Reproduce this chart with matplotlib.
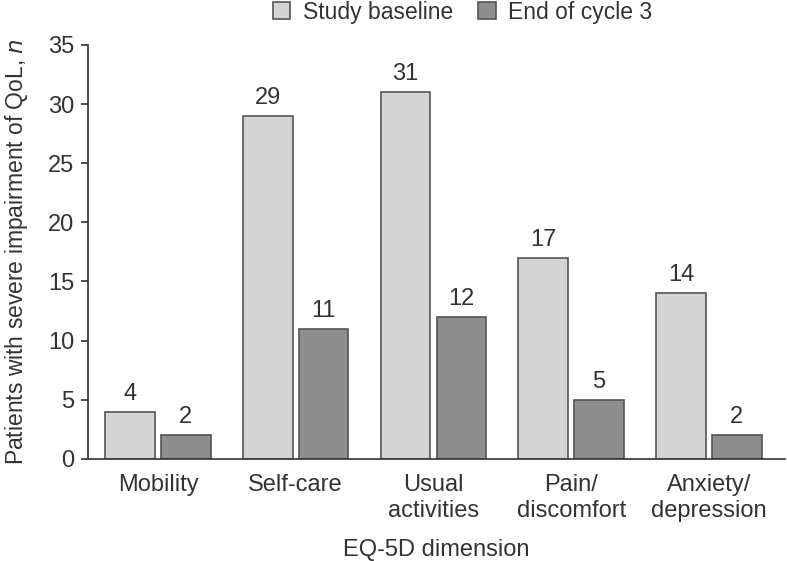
import numpy as np
import matplotlib.pyplot as plt

plt.rcParams['font.family'] = ['Liberation Sans', 'DejaVu Sans']

dimensions = ["Mobility", "Self-care", "Usual\nactivities", "Pain/\ndiscomfort", "Anxiety/\ndepression"]
baseline = [4, 29, 31, 17, 14]
cycle3 = [2, 11, 12, 5, 2]
yticks = [0, 5, 10, 15, 20, 25, 30, 35]

text_col = "#333333"
light = "#d4d4d4"
dark = "#8e8e8e"
edge = "#555555"
fs = 17

fig = plt.figure(figsize=(7.87, 5.61), dpi=100)
ax = fig.add_axes([0.112, 0.182, 0.885, 0.738])

x = np.arange(len(dimensions))
w = 0.36
off = 0.203
b1 = ax.bar(x - off, baseline, w, color=light, edgecolor=edge, linewidth=1.2, label="Study baseline")
b2 = ax.bar(x + off, cycle3, w, color=dark, edgecolor=edge, linewidth=1.2, label="End of cycle 3")

for bars, vals in [(b1, baseline), (b2, cycle3)]:
    for r, v in zip(bars, vals):
        ax.annotate(str(v), (r.get_x() + r.get_width() / 2, v), xytext=(0, 5),
                    textcoords="offset points", ha="center", va="bottom",
                    fontsize=fs, color=text_col)

ax.set_xlim(-0.507, 4.55)
ax.set_ylim(0, 35)
ax.set_yticks(yticks)
ax.set_xticks(x)
ax.set_xticklabels(dimensions, fontsize=fs, color=text_col, linespacing=1.25)
ax.tick_params(axis="x", length=0, pad=11)
ax.tick_params(axis="y", labelsize=fs, labelcolor=text_col, color=text_col, length=5, width=1.2, pad=5)

for s in ["top", "right"]:
    ax.spines[s].set_visible(False)
for s in ["left", "bottom"]:
    ax.spines[s].set_color(text_col)
    ax.spines[s].set_linewidth(1.2)

ax.set_xlabel("EQ-5D dimension", fontsize=fs, color=text_col, labelpad=12)
ax.set_ylabel("Patients with severe impairment of QoL, $\\it{n}$", fontsize=16.5, color=text_col, labelpad=13)

fig.legend(handles=[b1, b2], loc="center", bbox_to_anchor=(0.588, 0.978), ncol=2, frameon=False,
           fontsize=16.5, handlelength=0.75, handleheight=0.75, columnspacing=1.1, handletextpad=0.55,
           labelcolor=text_col, borderpad=0)

fig.savefig("out.png", dpi=100)
